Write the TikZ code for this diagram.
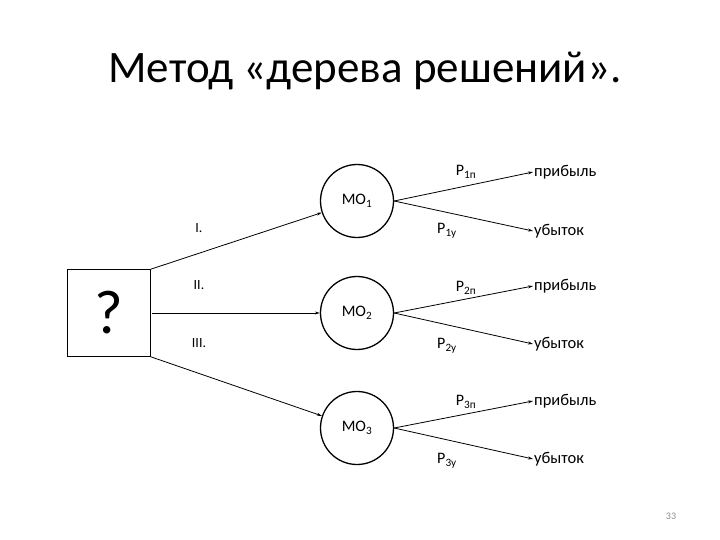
\documentclass[tikz,border=0pt]{standalone}
\usepackage{fontspec}
\setmainfont{Carlito}
\usetikzlibrary{arrows.meta}
\begin{document}
\begin{tikzpicture}[
  x=1pt, y=-1pt,
  font=\fontsize{16}{19}\selectfont,
  mo/.style={circle, draw, line width=1.3pt, minimum size=73pt, inner sep=0pt},
  lbl/.style={font=\fontsize{14}{17}\selectfont},
  outcome/.style={anchor=west, inner sep=1pt, font=\fontsize{16.5}{19}\selectfont},
  arr/.style={-{Stealth[length=5pt, width=3pt]}, line width=0.8pt}
]
\useasboundingbox (0,0) rectangle (720,540);
% title
\node (title) at (365,71) {\fontsize{45}{52}\selectfont Метод «дерева решений».};
% decision box and methods
\node[draw, line width=0.6pt, minimum width=83pt, minimum height=87pt, inner sep=0pt] (q) at (109,313)
  {\fontsize{62}{70}\selectfont ?};
\node[mo] (mo1) at (357,201) {МО\textsubscript{1}};
\node[mo] (mo2) at (357,313) {МО\textsubscript{2}};
\node[mo] (mo3) at (357,428) {МО\textsubscript{3}};
\coordinate (q2) at (152,313);
\draw[arr] (q.north east) -- (mo1);
\draw[arr] (q2) -- (mo2);
\draw[arr] (q.south east) -- (mo3);
\node[lbl] (l1) at (199,228) {I.};
\node[lbl] (l2) at (199,285) {II.};
\node[lbl] (l3) at (199,343) {III.};
% outcomes
\node[outcome] (pr1) at (533,172) {прибыль};
\node[outcome] (ub1) at (533,231) {убыток};
\node[outcome] (pr2) at (533,286) {прибыль};
\node[outcome] (ub2) at (533,344) {убыток};
\node[outcome] (pr3) at (533,401) {прибыль};
\node[outcome] (ub3) at (533,459) {убыток};
\draw[arr] (mo1.east) -- (pr1.west);
\draw[arr] (mo1.east) -- (ub1.west);
\draw[arr] (mo2.east) -- (pr2.west);
\draw[arr] (mo2.east) -- (ub2.west);
\draw[arr] (mo3.east) -- (pr3.west);
\draw[arr] (mo3.east) -- (ub3.west);
\node (p1p) at (466,172) {Р\textsubscript{1п}};
\node (p1u) at (447,231) {Р\textsubscript{1у}};
\node (p2p) at (466,288) {Р\textsubscript{2п}};
\node (p2u) at (447,346) {Р\textsubscript{2у}};
\node (p3p) at (466,402) {Р\textsubscript{3п}};
\node (p3u) at (447,461) {Р\textsubscript{3у}};
% page number
\node[font=\fontsize{10}{12}\selectfont, black!45] (pg) at (671,516) {33};
\end{tikzpicture}
\end{document}
